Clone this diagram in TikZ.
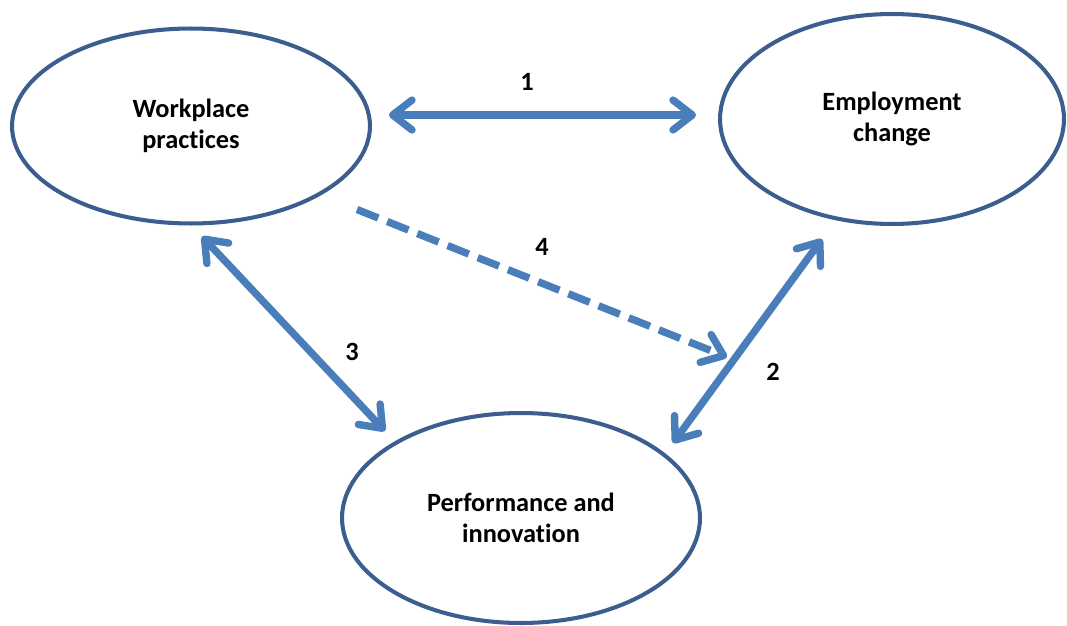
\documentclass[tikz,border=0pt]{standalone}
\usepackage{fontspec}
\setmainfont[Ligatures={NoCommon}]{Carlito}
\usetikzlibrary{shapes.geometric,arrows.meta,calc}

\definecolor{rim}{HTML}{3B5E8F}
\definecolor{arrowblue}{HTML}{4A7EBB}

\begin{document}
\begin{tikzpicture}[x=0.02cm,y=-0.02cm,
    blob/.style={ellipse, draw=rim, line width=2.3pt, inner sep=0pt,
      align=center, font=\fontsize{15}{18}\selectfont\bfseries},
    link/.style={draw=arrowblue, line width=4.2pt,
      {Straight Barb[length=11pt,width=17pt,round]}-{Straight Barb[length=11pt,width=17pt,round]}},
    num/.style={font=\fontsize{15}{18}\selectfont\bfseries}]
  \useasboundingbox (0,0) rectangle (1067,625);

  % Draw the ellipses
  \node[blob, minimum width=7.16cm, minimum height=3.9cm] (wp) at (191,126) {Workplace\\practices};
  \node[blob, minimum width=6.88cm, minimum height=4.2cm] (ec) at (892,119) {Employment\\change};
  \node[blob, minimum width=7.16cm, minimum height=4.2cm] (pi) at (521,518) {Performance and\\innovation};

  % Draw the arrows
  \draw[link] ($(wp.east)+(17,-11)$) -- ($(ec.west)+(-22,-4)$);
  \draw[link] ($(ec.south)+(-70,13)$) -- ($(pi.north)+(152,32)$);
  \draw[link] ($(wp.south)+(11,11)$) -- ($(pi.north)+(-136,20)$);
  \draw[link, -{Straight Barb[length=11pt,width=17pt,round]}, dash pattern=on 13pt off 5.5pt]
    ($(wp.south)+(166,-16)$) -- ($(ec.south)+(-165,131)$);

  % Add labels
  \node[num] (n1) at (527,82) {1};
  \node[num] (n2) at (773,372) {2};
  \node[num] (n3) at (352,352) {3};
  \node[num] (n4) at (542,247) {4};
\end{tikzpicture}
\end{document}
